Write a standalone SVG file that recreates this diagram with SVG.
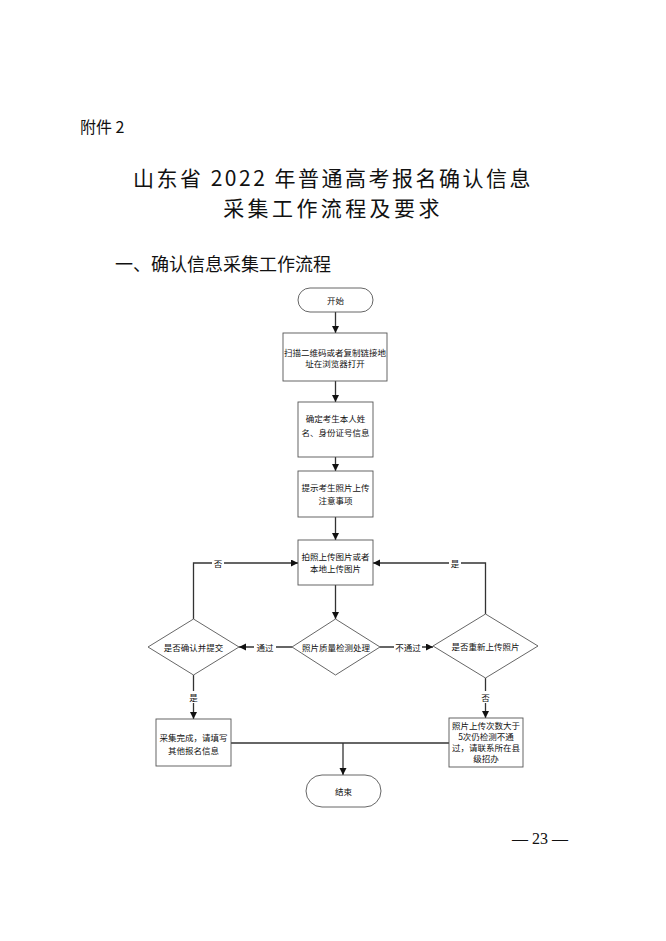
<svg xmlns="http://www.w3.org/2000/svg" width="666" height="941" viewBox="0 0 666 941">
<style>
.t{font-family:"Noto Sans CJK SC","Noto Sans",sans-serif;fill:#111}
.n{font-family:"Noto Sans CJK SC","Noto Sans",sans-serif;font-size:8.5px;fill:#111;text-anchor:middle;dominant-baseline:central}
.box{fill:#fff;stroke:#555;stroke-width:0.9}
.ln{fill:none;stroke:#333;stroke-width:1.3}
.lb{fill:#fff}
</style>
<defs>
<marker id="ah" markerUnits="userSpaceOnUse" markerWidth="8" markerHeight="8" refX="7" refY="3.5" orient="auto">
<path d="M0,0 L7,3.5 L0,7 z" fill="#111"/>
</marker>
</defs>
<rect width="666" height="941" fill="#fff"/>
<text class="t" x="80" y="133" font-size="16">附件 2</text>
<text class="t" x="333" y="185.5" font-size="21" letter-spacing="2.5" text-anchor="middle">山东省 2022 年普通高考报名确认信息</text>
<text class="t" x="333" y="216" font-size="21" letter-spacing="3.4" text-anchor="middle">采集工作流程及要求</text>
<text class="t" x="115" y="271" font-size="18">一、确认信息采集工作流程</text>
<text x="540" y="844" font-family="Liberation Serif, serif" font-size="16" text-anchor="middle" fill="#111">— 23 —</text>

<g id="connectors">
<line class="ln" x1="335.5" y1="312" x2="335.5" y2="333" marker-end="url(#ah)"/>
<line class="ln" x1="335.5" y1="381" x2="335.5" y2="402" marker-end="url(#ah)"/>
<line class="ln" x1="335.5" y1="457" x2="335.5" y2="471" marker-end="url(#ah)"/>
<line class="ln" x1="335.5" y1="517" x2="335.5" y2="540" marker-end="url(#ah)"/>
<line class="ln" x1="335.5" y1="585" x2="335.5" y2="619" marker-end="url(#ah)"/>
<line class="ln" x1="292" y1="647" x2="239" y2="647" marker-end="url(#ah)"/>
<line class="ln" x1="380" y1="647" x2="433" y2="647" marker-end="url(#ah)"/>
<polyline class="ln" points="193.5,619 193.5,563 298,563" marker-end="url(#ah)"/>
<polyline class="ln" points="485.5,614 485.5,563 373,563" marker-end="url(#ah)"/>
<line class="ln" x1="193.5" y1="675" x2="193.5" y2="719" marker-end="url(#ah)"/>
<line class="ln" x1="485.5" y1="678" x2="485.5" y2="718" marker-end="url(#ah)"/>
<line class="ln" x1="231" y1="743" x2="449" y2="743"/>
<line class="ln" x1="343" y1="743" x2="343" y2="775" marker-end="url(#ah)"/>
<rect class="lb" x="254" y="641" width="22" height="12"/>
<text class="n" x="265" y="647">通过</text>
<rect class="lb" x="394" y="641" width="28" height="12"/>
<text class="n" x="408" y="647">不通过</text>
<rect class="lb" x="212" y="557" width="12" height="12"/>
<text class="n" x="218" y="563">否</text>
<rect class="lb" x="449" y="557" width="12" height="12"/>
<text class="n" x="455" y="563">是</text>
<rect class="lb" x="188" y="691" width="12" height="12"/>
<text class="n" x="193.5" y="697">是</text>
<rect class="lb" x="480" y="691" width="12" height="12"/>
<text class="n" x="485.5" y="697">否</text>
</g>

<g id="start">
<rect class="box" x="298" y="288" width="75" height="24" rx="12"/>
<text class="n" x="335.5" y="300">开始</text>
</g>
<g id="scan">
<rect class="box" x="283" y="333" width="104" height="48"/>
<text class="n" x="335" y="352">扫描二维码或者复制链接地</text>
<text class="n" x="335" y="363">址在浏览器打开</text>
</g>
<g id="confirm">
<rect class="box" x="298" y="402" width="75" height="55"/>
<text class="n" x="335.5" y="418">确定考生本人姓</text>
<text class="n" x="335.5" y="432">名、身份证号信息</text>
</g>
<g id="notice">
<rect class="box" x="298" y="471" width="75" height="46"/>
<text class="n" x="335.5" y="487">提示考生照片上传</text>
<text class="n" x="335.5" y="500">注意事项</text>
</g>
<g id="upload">
<rect class="box" x="298" y="540" width="75" height="45"/>
<text class="n" x="335.5" y="556">拍照上传图片或者</text>
<text class="n" x="335.5" y="568">本地上传图片</text>
</g>
<g id="check">
<polygon class="box" points="335.5,619 380,647 335.5,675 292,647"/>
<text class="n" x="336" y="647">照片质量检测处理</text>
</g>
<g id="submit">
<polygon class="box" points="193.5,619 239,647 193.5,675 148,647"/>
<text class="n" x="193.5" y="647">是否确认并提交</text>
</g>
<g id="reupload">
<polygon class="box" points="485.5,614 538,646 485.5,678 433,646"/>
<text class="n" x="485.5" y="646">是否重新上传照片</text>
</g>
<g id="done">
<rect class="box" x="156" y="719" width="75" height="47"/>
<text class="n" x="193.5" y="737">采集完成，请填写</text>
<text class="n" x="193.5" y="750">其他报名信息</text>
</g>
<g id="fail">
<rect class="box" x="449" y="718" width="74" height="49"/>
<text class="n" x="486" y="725">照片上传次数大于</text>
<text class="n" x="486" y="736">5次仍检测不通</text>
<text class="n" x="486" y="747">过，请联系所在县</text>
<text class="n" x="486" y="758">级招办</text>
</g>
<g id="end">
<rect class="box" x="306" y="775" width="75" height="32" rx="16"/>
<text class="n" x="343.5" y="791">结束</text>
</g>
</svg>
